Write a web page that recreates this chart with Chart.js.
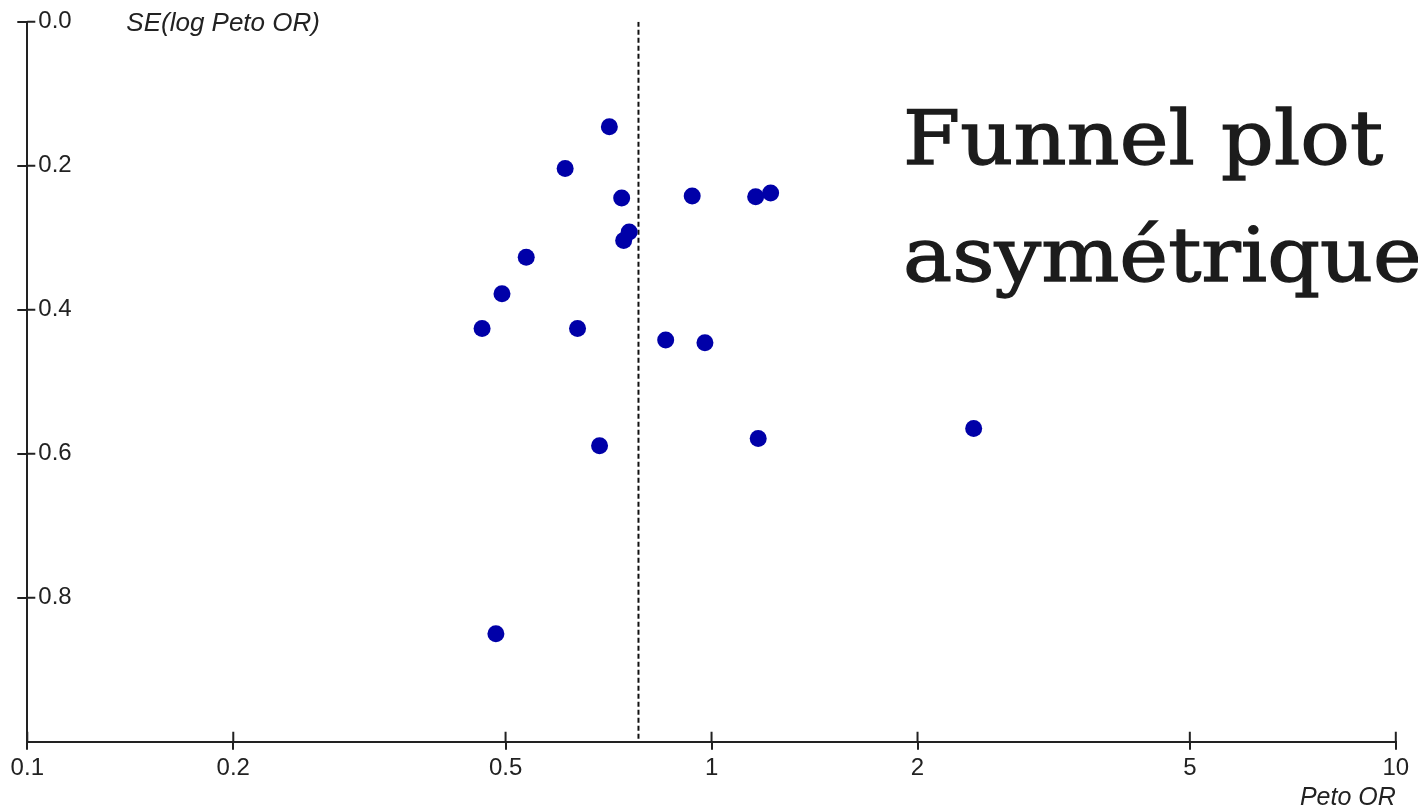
<!DOCTYPE html>
<html>
<head>
<meta charset="utf-8">
<title>Funnel plot asymétrique</title>
<script src="https://cdn.jsdelivr.net/npm/chart.js@4.4.1/dist/chart.umd.min.js"></script>
<style>
  html, body { margin: 0; padding: 0; background: #fff; overflow: hidden; }
  #wrap { position: relative; width: 1418px; height: 808px; overflow: hidden; }
  #title {
    position: absolute; left: 903px; top: 80px;
    font-family: 'DejaVu Serif', serif; font-size: 75px; line-height: 117px;
    color: #1c1c1c; white-space: nowrap;
    -webkit-text-stroke: 1.3px #1c1c1c;
    transform: scaleX(1.1); transform-origin: left top;
  }
</style>
</head>
<body>
<div id="wrap">
  <canvas id="funnel" width="1418" height="808"></canvas>
  <div id="title">Funnel plot<br>asymétrique</div>
</div>
<script>
// Peto odds ratio of each trial and the standard error of its log
const petoOR  = [0.709, 0.611, 0.739, 0.937, 1.160, 1.220, 0.758, 0.744, 0.536,
                 0.494, 0.462, 0.637, 0.857, 0.978, 0.686, 1.170, 2.416, 0.484];
const seLogOR = [0.146, 0.204, 0.245, 0.242, 0.243, 0.238, 0.292, 0.304, 0.327,
                 0.378, 0.426, 0.426, 0.442, 0.446, 0.589, 0.579, 0.565, 0.850];
// pooled estimate, drawn as the dashed vertical line
const pooledOR = 0.782;

const xTicks = [0.1, 0.2, 0.5, 1, 2, 5, 10];
const yTicks = [0, 0.2, 0.4, 0.6, 0.8];

const axisColor = '#222';
const tickFont = { family: '"Liberation Sans", Arial, sans-serif', size: 24 };

// inner half of the tick marks + the y axis caption at the top
const axisExtras = {
    id: 'axisExtras',
    afterDraw(chart) {
        const { ctx, chartArea, scales: { x, y } } = chart;
        ctx.save();
        ctx.strokeStyle = axisColor;
        ctx.lineWidth = 2;
        ctx.beginPath();
        yTicks.forEach(v => {
            const py = y.getPixelForValue(v);
            ctx.moveTo(chartArea.left, py);
            ctx.lineTo(chartArea.left + 8, py);
        });
        xTicks.forEach(v => {
            const px = x.getPixelForValue(v);
            ctx.moveTo(px, chartArea.bottom);
            ctx.lineTo(px, chartArea.bottom - 10);
        });
        ctx.stroke();
        ctx.fillStyle = axisColor;
        ctx.font = 'italic 26px "Liberation Sans", Arial, sans-serif';
        ctx.textBaseline = 'alphabetic';
        ctx.fillText('SE(log Peto OR)', chartArea.left + 99, 31);
        ctx.restore();
    }
};

const ctx = document.getElementById('funnel').getContext('2d');
new Chart(ctx, {
    type: 'scatter',
    data: {
        datasets: [{
            label: 'Trials',
            data: petoOR.map((v, i) => ({ x: v, y: seLogOR[i] })),
            backgroundColor: '#0000a8',
            borderWidth: 0,
            pointRadius: 8.5
        }, {
            label: 'Pooled',
            data: [{ x: pooledOR, y: 0 }, { x: pooledOR, y: 1 }],
            showLine: true,
            borderColor: '#111',
            borderWidth: 2,
            borderDash: [5, 3],
            pointRadius: 0
        }]
    },
    options: {
        responsive: false,
        animation: false,
        layout: { padding: { top: 21.7, right: 22.2, left: 0, bottom: 0 } },
        plugins: {
            legend: { display: false },
            tooltip: { enabled: false }
        },
        scales: {
            x: {
                type: 'logarithmic',
                min: 0.1,
                max: 10,
                afterBuildTicks: s => { s.ticks = xTicks.map(v => ({ value: v })); },
                afterFit: s => { s.height = 66.3; s.paddingLeft = 0; s.paddingRight = 0; },
                ticks: {
                    color: axisColor,
                    font: tickFont,
                    padding: 4,
                    maxRotation: 0,
                    autoSkip: false,
                    callback: v => String(v)
                },
                grid: {
                    drawOnChartArea: false,
                    drawTicks: true,
                    tickLength: 8,
                    color: axisColor,
                    lineWidth: 2
                },
                border: { display: true, color: axisColor, width: 2 },
                title: {
                    display: true,
                    text: 'Peto OR',
                    align: 'end',
                    color: axisColor,
                    font: { family: '"Liberation Sans", Arial, sans-serif', size: 25, style: 'italic', lineHeight: 0.8 },
                    padding: 0
                }
            },
            y: {
                reverse: true,
                min: 0,
                max: 1,
                afterBuildTicks: s => { s.ticks = yTicks.map(v => ({ value: v })); },
                afterFit: s => { s.width = 27.3; s.paddingTop = 0; s.paddingBottom = 0; },
                ticks: {
                    mirror: true,
                    color: axisColor,
                    font: tickFont,
                    padding: 11,
                    callback: v => v.toFixed(1)
                },
                grid: {
                    drawOnChartArea: false,
                    drawTicks: true,
                    tickLength: 10,
                    color: axisColor,
                    lineWidth: 2
                },
                border: { display: true, color: axisColor, width: 2 }
            }
        }
    },
    plugins: [axisExtras]
});
</script>
</body>
</html>
